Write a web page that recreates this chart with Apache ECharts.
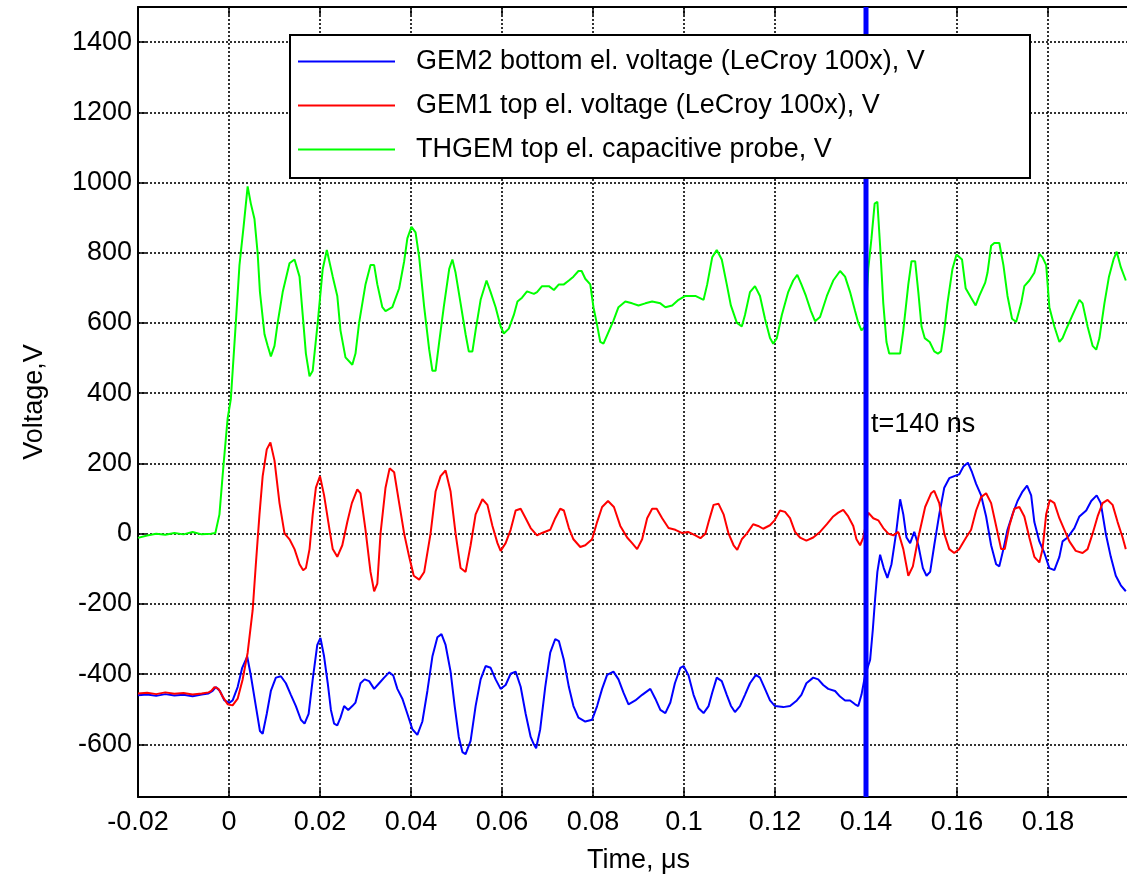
<!DOCTYPE html>
<html lang="en">
<head>
<meta charset="UTF-8">
<title>GEM / THGEM voltages</title>
<script src="https://cdn.jsdelivr.net/npm/echarts@6.0.0/dist/echarts.min.js"></script>
<style>
  html, body { margin: 0; padding: 0; background: #fff; }
  #main { width: 1127px; height: 876px; }
</style>
</head>
<body>
<div id="main"></div>
<script>
// time in ns (plotted in us), voltage in V
const gem2Ns = [
  -20, -18, -16, -14, -12, -10, -8, -6, -4.5, -3.6,
  -2.9, -2.0, -1.0, 0.1, 0.8, 1.9, 2.9, 4.0, 4.8, 5.9,
  6.8, 7.4, 8.3, 9.2, 10.3, 11.4, 12.5, 13.6, 14.7, 15.8,
  16.6, 17.5, 18.4, 19.4, 20.1, 20.9, 21.7, 22.4, 23.1, 23.8,
  24.5, 25.3, 26.2, 27.1, 27.8, 28.9, 29.8, 30.8, 31.9, 33.0,
  34.1, 35.2, 36.1, 37.0, 38.1, 39.2, 40.3, 41.4, 42.5, 43.6,
  44.7, 45.8, 46.7, 47.6, 48.7, 49.6, 50.5, 51.3, 52.0, 53.1,
  54.2, 55.3, 56.4, 57.5, 58.6, 59.7, 60.8, 61.9, 63.0, 64.1,
  65.2, 66.3, 67.0, 67.5, 68.4, 69.5, 70.6, 71.7, 72.5, 73.6,
  74.7, 75.7, 76.8, 78.3, 79.8, 80.9, 82.0, 83.1, 84.5, 85.6,
  86.7, 87.8, 89.3, 90.8, 92.6, 93.7, 94.8, 95.9, 97.0, 98.0,
  99.2, 99.9, 101.0, 102.1, 103.2, 104.3, 105.4, 106.2, 107.2, 108.3,
  109.4, 110.3, 111.2, 112.3, 113.4, 114.5, 115.8, 116.7, 117.8, 118.9,
  120.0, 121.8, 123.3, 124.8, 125.8, 126.9, 128.4, 129.5, 130.6, 131.7,
  133.2, 134.3, 135.4, 136.5, 137.6, 138.3, 139.0, 139.8, 140.9, 141.5,
  142.0, 142.5, 143.1, 143.9, 144.7, 145.6, 146.6, 147.5, 148.2, 148.9,
  149.7, 150.6, 151.5, 152.5, 153.3, 154.1, 155.0, 156.1, 157.2, 158.3,
  159.4, 160.5, 161.4, 162.4, 163.3, 164.2, 165.3, 166.4, 167.5, 168.6,
  169.3, 170.2, 171.1, 172.2, 173.3, 174.4, 175.4, 176.3, 177.0, 178.1,
  179.2, 180.3, 181.4, 182.5, 183.2, 184.3, 185.8, 186.9, 188.4, 189.5,
  190.7, 191.6, 192.7, 193.8, 194.9, 196.0, 197.1
];
const gem2V = [
  -460, -458, -462, -457, -461, -459, -463, -458, -455, -448,
  -437, -448, -475, -481, -475, -437, -382, -350, -404, -491,
  -562, -570, -513, -448, -410, -406, -426, -459, -491, -530,
  -541, -513, -415, -317, -297, -350, -426, -502, -541, -546,
  -524, -491, -502, -491, -481, -426, -415, -420, -442, -426,
  -410, -395, -404, -442, -470, -513, -557, -573, -535, -448,
  -350, -295, -286, -317, -393, -491, -579, -622, -628, -590,
  -491, -415, -377, -382, -415, -442, -431, -399, -393, -436,
  -513, -579, -600, -611, -557, -437, -339, -300, -306, -360,
  -437, -491, -524, -535, -530, -491, -442, -402, -393, -415,
  -453, -486, -475, -459, -442, -470, -502, -511, -481, -426,
  -382, -377, -404, -459, -497, -511, -491, -453, -410, -420,
  -459, -490, -508, -491, -459, -426, -402, -410, -442, -475,
  -491, -494, -491, -475, -459, -426, -410, -415, -431, -442,
  -448, -464, -475, -475, -486, -491, -459, -404, -360, -273,
  -186, -109, -60, -98, -126, -87, 0, 98, 55, -11,
  -27, 5, -33, -98, -120, -109, -33, 55, 131, 158,
  164, 169, 191, 202, 175, 142, 109, 49, -33, -87,
  -93, -44, 11, 55, 93, 120, 137, 109, 33, -22,
  -55, -98, -104, -66, -22, -11, 16, 49, 66, 93,
  109, 87, 0, -66, -120, -147, -164
];

const gem1Ns = [
  -20, -18, -16, -14, -12, -10, -8, -6, -4.5, -3.9,
  -3.2, -2.3, -1.4, -0.3, 0.8, 1.9, 3.0, 4.1, 5.2, 5.9,
  6.7, 7.4, 8.3, 9.1, 10.0, 11.1, 12.2, 13.3, 14.4, 15.5,
  16.3, 16.9, 17.7, 18.4, 19.1, 20.0, 20.9, 22.1, 22.8, 23.8,
  24.9, 26.0, 27.0, 28.2, 28.9, 30.0, 31.1, 31.9, 32.6, 33.3,
  34.4, 35.3, 36.3, 37.4, 38.5, 39.6, 40.6, 41.8, 42.9, 44.3,
  45.4, 46.5, 47.6, 48.7, 49.8, 50.9, 52.0, 53.1, 54.2, 55.7,
  56.8, 57.9, 59.0, 59.7, 60.8, 61.9, 63.0, 64.1, 65.2, 66.3,
  67.7, 68.8, 70.6, 71.7, 72.8, 73.6, 74.7, 75.7, 77.2, 78.3,
  79.8, 80.9, 82.0, 83.3, 84.6, 86.0, 87.5, 88.6, 89.7, 90.8,
  91.9, 93.0, 94.0, 95.2, 96.6, 98.1, 99.5, 100.9, 102.5, 103.6,
  104.7, 105.4, 106.5, 107.6, 108.7, 109.8, 110.9, 111.7, 112.7, 113.8,
  115.2, 116.3, 117.4, 118.9, 119.9, 121.1, 122.2, 123.3, 124.4, 125.5,
  126.9, 128.4, 129.9, 131.4, 132.8, 133.9, 135.0, 136.1, 137.2, 137.9,
  138.7, 139.4, 140.5, 141.6, 142.7, 143.8, 144.9, 146.0, 147.1, 148.2,
  149.3, 150.3, 151.5, 153.0, 154.3, 155.0, 156.1, 157.2, 158.3, 159.4,
  160.5, 162.0, 163.1, 164.2, 165.3, 166.4, 167.5, 168.6, 169.7, 170.5,
  171.5, 172.6, 173.7, 174.8, 175.9, 177.0, 178.1, 178.8, 179.6, 180.4,
  181.4, 182.5, 183.6, 184.7, 186.1, 187.6, 188.7, 189.8, 190.9, 192.0,
  193.1, 194.2, 195.3, 196.4, 197.1
];
const gem1V = [
  -455, -453, -457, -452, -456, -454, -458, -455, -452, -448,
  -437, -442, -464, -486, -489, -470, -415, -339, -218, -87,
  55, 164, 240, 260, 208, 87, 1, -16, -44, -87,
  -104, -98, -44, 55, 131, 164, 109, 11, -44, -66,
  -33, 33, 87, 126, 115, 11, -109, -164, -142, 0,
  131, 186, 175, 87, 0, -66, -120, -131, -109, 0,
  120, 164, 180, 120, 0, -98, -109, -33, 55, 98,
  82, 22, -27, -49, -27, 11, 66, 71, 44, 16,
  -5, 2, 11, 44, 71, 66, 16, -16, -38, -33,
  -16, 33, 76, 93, 76, 22, -11, -27, -44, -16,
  44, 71, 71, 44, 16, 11, 2, 5, -5, -13,
  0, 33, 82, 85, 55, 0, -33, -46, -16, 0,
  27, 22, 14, 24, 38, 66, 62, 44, 5, -11,
  -20, -11, 5, 27, 49, 60, 68, 49, 22, -16,
  -33, -11, 60, 44, 38, 16, 0, -5, 5, -44,
  -120, -93, -11, 76, 115, 122, 87, 0, -44, -55,
  -44, -11, 11, 66, 104, 115, 87, 22, -44, -44,
  22, 71, 76, 49, -11, -66, -82, -44, 55, 96,
  87, 44, 11, -22, -49, -55, -44, 0, 49, 87,
  96, 82, 33, -11, -44
];

const thgemNs = [
  -20, -18, -16, -14, -12, -10, -8, -6, -4, -3,
  -2.1, -1.2, -0.3, 0.4, 1.5, 2.3, 3.2, 4.1, 4.8, 5.6,
  6.3, 6.8, 7.8, 8.5, 9.2, 10.0, 10.7, 11.8, 13.3, 14.4,
  15.5, 16.2, 16.9, 17.7, 18.4, 19.5, 20.6, 21.5, 22.8, 23.8,
  24.5, 25.6, 27.1, 27.8, 28.6, 30.0, 31.1, 31.9, 32.6, 33.7,
  34.4, 35.9, 37.4, 38.5, 39.2, 40.1, 41.0, 41.8, 42.9, 44.0,
  44.7, 45.4, 46.2, 47.2, 48.4, 49.1, 49.8, 50.9, 52.0, 52.7,
  53.5, 54.2, 55.3, 56.6, 57.5, 58.6, 59.7, 60.4, 61.5, 62.6,
  63.4, 64.4, 65.5, 67.0, 67.7, 68.8, 70.3, 71.4, 72.5, 73.6,
  74.7, 75.7, 76.8, 77.5, 78.3, 79.4, 80.1, 80.8, 81.6, 82.3,
  83.4, 84.5, 85.6, 87.1, 88.6, 90.0, 91.5, 93.0, 94.8, 95.9,
  97.4, 98.8, 100.3, 102.5, 104.3, 105.1, 106.2, 107.2, 108.3, 109.4,
  110.3, 111.6, 112.7, 113.4, 114.5, 115.6, 116.7, 117.8, 118.9, 119.6,
  120.4, 121.5, 122.9, 124.0, 124.9, 125.8, 126.8, 127.9, 128.8, 129.9,
  131.4, 132.8, 134.3, 135.4, 136.5, 137.6, 138.3, 139.0, 139.8, 140.5,
  141.2, 141.9, 142.5, 143.1, 143.8, 144.5, 145.1, 146.4, 147.5, 148.2,
  149.3, 150.0, 150.8, 151.5, 152.2, 152.9, 154.0, 155.0, 155.8, 156.5,
  157.2, 157.9, 159.0, 159.9, 161.1, 161.9, 163.1, 164.1, 164.9, 166.2,
  166.7, 167.5, 168.2, 169.3, 170.2, 171.1, 172.1, 173.0, 174.1, 174.8,
  175.9, 177.0, 178.1, 178.8, 179.6, 180.3, 181.4, 182.5, 183.2, 183.9,
  185.4, 186.9, 187.6, 188.7, 189.8, 190.6, 191.3, 192.4, 193.4, 194.4,
  195.1, 196.0, 197.1
];
const thgemV = [
  -12, -5, 0, -3, 2, -2, 5, -2, 0, 2,
  55, 197, 328, 383, 601, 765, 874, 989, 940, 896,
  798, 688, 568, 535, 505, 535, 601, 688, 770, 781,
  732, 623, 513, 448, 464, 601, 754, 808, 732, 677,
  579, 502, 481, 513, 601, 710, 765, 765, 710, 645,
  634, 645, 699, 776, 841, 874, 858, 787, 645, 524,
  464, 464, 546, 645, 754, 781, 743, 656, 568, 519,
  519, 579, 666, 721, 688, 645, 590, 570, 584, 623,
  661, 672, 690, 683, 688, 705, 705, 694, 710, 710,
  721, 732, 748, 748, 726, 710, 645, 601, 546, 541,
  574, 607, 645, 661, 656, 650, 656, 661, 656, 645,
  650, 666, 677, 677, 666, 710, 787, 808, 781, 710,
  650, 601, 590, 623, 688, 705, 677, 612, 557, 541,
  557, 623, 688, 721, 737, 710, 677, 634, 605, 617,
  677, 721, 748, 732, 688, 634, 601, 579, 590, 754,
  841, 940, 945, 820, 656, 546, 513, 513, 513, 579,
  710, 776, 776, 688, 590, 557, 546, 519, 513, 519,
  579, 656, 754, 795, 781, 699, 672, 650, 677, 715,
  743, 820, 828, 828, 765, 677, 612, 603, 656, 705,
  721, 743, 797, 787, 765, 645, 590, 546, 557, 579,
  623, 666, 656, 590, 535, 524, 557, 656, 732, 781,
  803, 759, 721
];

const markerTime = 0.14;     // us
const markerText = 't=140 ns';
const seriesNames = [
  'GEM2 bottom el. voltage (LeCroy 100x), V',
  'GEM1 top el. voltage (LeCroy 100x), V',
  'THGEM top el. capacitive probe, V'
];

function toPairs(ns, volts) {
  return ns.map(function (t, i) { return [t / 1000, volts[i]]; });
}

const FONT = 'Liberation Sans, Arial, Helvetica, sans-serif';
const gridLine = { color: '#000', type: [2, 2], width: 1.6 };
const tickStyle = { show: true, inside: true, length: 8, lineStyle: { color: '#000', width: 1.5 } };
const frameLine = { show: true, onZero: false, lineStyle: { color: '#000', width: 2 } };

var myChart = echarts.init(document.getElementById('main'));
var option = {
  backgroundColor: '#fff',
  animation: false,
  textStyle: { fontFamily: FONT },
  grid: { left: 138, top: 7, right: -12, bottom: 79, outerBoundsMode: 'none' },
  legend: {
    data: seriesNames,
    orient: 'vertical',
    left: 298,
    top: 48,
    icon: 'rect',
    itemWidth: 97,
    itemHeight: 2,
    itemGap: 17,
    selectedMode: false,
    padding: 0,
    textStyle: { fontSize: 27, color: '#000', fontFamily: FONT, padding: [0, 0, 0, 16] }
  },
  graphic: [{
    type: 'rect',
    z: 3,
    shape: { x: 290, y: 35, width: 740, height: 143 },
    style: { fill: '#fff', stroke: '#000', lineWidth: 2 }
  }],
  xAxis: [{
    type: 'value',
    min: -0.02,
    max: 0.2,
    interval: 0.02,
    name: 'Time, μs',
    nameLocation: 'middle',
    nameGap: 50,
    nameTextStyle: { fontSize: 27, color: '#000', fontFamily: FONT },
    axisLine: frameLine,
    axisTick: tickStyle,
    axisLabel: {
      fontSize: 27, color: '#000', margin: 12, showMaxLabel: false,
      formatter: function (v) { return String(Math.round(v * 1000) / 1000); }
    },
    splitLine: { show: true, lineStyle: gridLine }
  }, {
    type: 'value',
    position: 'top',
    min: -0.02,
    max: 0.2,
    interval: 0.02,
    axisLine: frameLine,
    axisTick: tickStyle,
    axisLabel: { show: false },
    splitLine: { show: false }
  }],
  yAxis: {
    type: 'value',
    min: -750,
    max: 1500,
    splitNumber: 10,
    name: 'Voltage,V',
    nameLocation: 'middle',
    nameGap: 90,
    nameTextStyle: { fontSize: 27, color: '#000', fontFamily: FONT },
    axisLine: frameLine,
    axisTick: tickStyle,
    axisLabel: {
      fontSize: 27, color: '#000', margin: 6, showMinLabel: false, showMaxLabel: false,
      formatter: function (v) { return String(v); }
    },
    splitLine: { show: true, lineStyle: gridLine }
  },
  series: [
    {
      name: seriesNames[0], type: 'line', symbol: 'none', z: 2,
      data: toPairs(gem2Ns, gem2V),
      color: '#0000ff', lineStyle: { color: '#0000ff', width: 2 }
    },
    {
      name: seriesNames[1], type: 'line', symbol: 'none', z: 2,
      data: toPairs(gem1Ns, gem1V),
      color: '#ff0000', lineStyle: { color: '#ff0000', width: 2 }
    },
    {
      name: seriesNames[2], type: 'line', symbol: 'none', z: 2,
      data: toPairs(thgemNs, thgemV),
      color: '#00ff00', lineStyle: { color: '#00ff00', width: 2 }
    },
    {
      name: 'marker', type: 'line', symbol: 'none', z: 2,
      data: [[markerTime, -750], [markerTime, 1500]],
      lineStyle: { color: '#0000ff', width: 5 }
    },
    {
      name: 'markerLabel', type: 'scatter', symbolSize: 0,
      itemStyle: { opacity: 1 },
      data: [[0.1402, 311]],
      label: {
        show: true, position: 'right', distance: 4, textBorderWidth: 0,
        formatter: markerText, fontSize: 27, color: '#000', fontFamily: FONT
      }
    }
  ]
};
myChart.setOption(option);
</script>
</body>
</html>
